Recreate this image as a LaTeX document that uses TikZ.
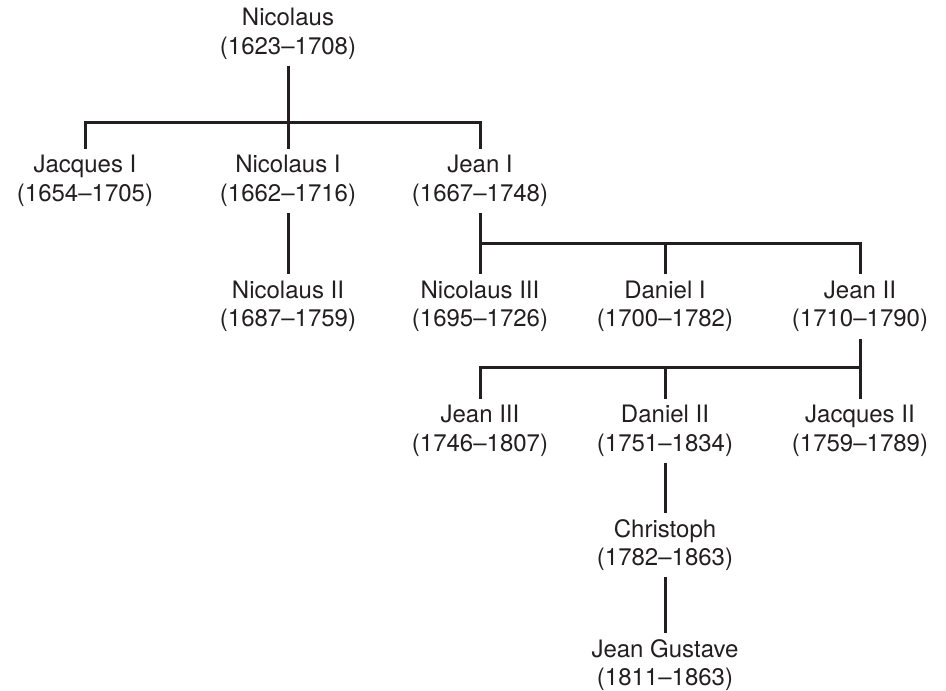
\documentclass[tikz,border=0pt]{standalone}
\usepackage{fontspec}
\setmainfont{TeX Gyre Heros}
\definecolor{ink}{HTML}{231F20}
\begin{document}
\begin{tikzpicture}[x=1pt,y=-1pt,
  person/.style={align=center, inner sep=0pt, minimum height=64pt,
    font=\fontsize{24}{28.5}\selectfont, text=ink},
  link/.style={draw=ink, line width=3pt}]
\useasboundingbox (0,0) rectangle (946,691);
% people
\node[person] (nic)   at (288,34)    {Nicolaus\\(1623--1708)};
\node[person] (jac1)  at (85,181)    {Jacques I\\(1654--1705)};
\node[person] (nic1)  at (288,181)   {Nicolaus I\\(1662--1716)};
\node[person] (jean1) at (480,181)   {Jean I\\(1667--1748)};
\node[person] (nic2)  at (288,306.5) {Nicolaus II\\(1687--1759)};
\node[person] (nic3)  at (480,306.5) {Nicolaus III\\(1695--1726)};
\node[person] (dan1)  at (665,306.5) {Daniel I\\(1700--1782)};
\node[person] (jean2) at (860,306.5) {Jean II\\(1710--1790)};
\node[person] (jean3) at (480,431)   {Jean III\\(1746--1807)};
\node[person] (dan2)  at (665,431)   {Daniel II\\(1751--1834)};
\node[person] (jac2)  at (860,431)   {Jacques II\\(1759--1789)};
\node[person] (chr)   at (665,545)   {Christoph\\(1782--1863)};
\node[person] (jg)    at (665,665)   {Jean Gustave\\(1811--1863)};
% junctions
\coordinate (b1) at (288,122);
\coordinate (b2) at (480,243.5);
\coordinate (b3) at (860,367);
% connectors
\draw[link] (nic.south) -- (b1);
\draw[link] (jac1.north) |- (b1) -| (jean1.north);
\draw[link] (b1) -- (nic1.north);
\draw[link] (nic1.south) -- (nic2.north);
\draw[link] (jean1.south) -- (nic3.north);
\draw[link] (b2) -| (jean2.north);
\draw[link] (dan1.north) -- (dan1.north |- b2);
\draw[link] (jean2.south) -- (jac2.north);
\draw[link] (b3) -| (jean3.north);
\draw[link] (dan2.north) -- (dan2.north |- b3);
\draw[link] (dan2.south) -- (chr.north);
\draw[link] (chr.south) -- (jg.north);
\end{tikzpicture}
\end{document}
